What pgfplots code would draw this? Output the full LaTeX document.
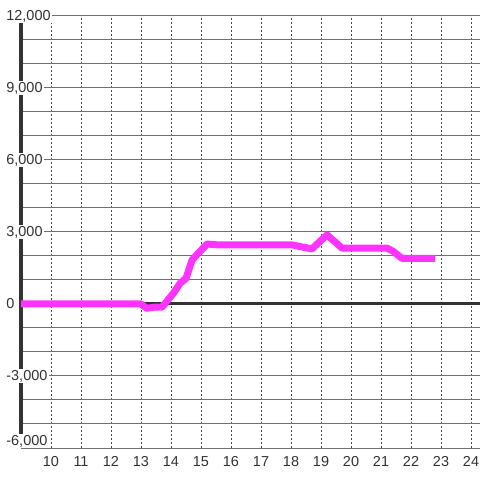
\documentclass[border=0pt]{standalone}
\usepackage{fontspec}
\setmainfont{Liberation Sans}
\usepackage{pgfplots}
\pgfplotsset{compat=1.18}
\definecolor{lab}{HTML}{333333}
\definecolor{grd}{HTML}{707070}
\definecolor{dots}{HTML}{4A4A4A}
\definecolor{mag}{HTML}{FF33FF}
\begin{document}
\begin{tikzpicture}
\begin{axis}[
  scale only axis, width=459bp, height=432bp,
  xmin=9, xmax=24.3, ymin=-6000, ymax=12000,
  axis line style={draw=none},
  major tick length=0, minor tick length=0,
  xtick={10,...,24},
  ytick={-6000,-3000,0,3000,6000,9000,12000},
  yticklabels={},
  scaled y ticks=false,
  minor ytick={-5000,-4000,-2000,-1000,1000,2000,4000,5000,7000,8000,10000,11000},
  xmajorgrids, ymajorgrids, yminorgrids,
  x grid style={dots, line width=1bp, dash pattern=on 2bp off 2bp},
  y grid style={grd, line width=1bp},
  minor y grid style={grd, line width=1bp},
  /pgf/number format/assume math mode=true,
  tick label style={font=\fontsize{14.5}{17}\selectfont, text=lab},
  xticklabel style={anchor=north, inner sep=0pt, yshift=-8bp},
  clip=false,
]
\draw[lab, line width=3bp] (axis cs:9,0) -- (axis cs:24.3,0);
\draw[lab, line width=3.2bp] (axis cs:9,12000) -- (axis cs:9,-6000);
\addplot[mag, line width=7bp, line join=round, line cap=butt] coordinates {
(9,0) (13,0) (13.19,-180) (13.45,-130) (13.7,-130) (14.08,450) (14.3,860)
(14.5,1070) (14.7,1830) (14.9,2110) (15.2,2500) (15.6,2460) (18.05,2460)
(18.35,2380) (18.7,2300) (19.2,2880) (19.7,2330) (21.2,2330) (21.4,2200)
(21.7,1900) (22.8,1900)
};
\tikzset{ylab/.style={anchor=west, fill=white, inner sep=1.2bp, text=lab, font=\fontsize{14.5}{17}\selectfont, xshift=-16bp}}
\node[ylab] at (axis cs:9,12000) {12,000};
\node[ylab] at (axis cs:9,9000) {9,000};
\node[ylab] at (axis cs:9,6000) {6,000};
\node[ylab] at (axis cs:9,3000) {3,000};
\node[ylab] at (axis cs:9,0) {0};
\node[ylab] at (axis cs:9,-3000) {-3,000};
\node[ylab, yshift=7bp] at (axis cs:9,-6000) {-6,000};
\end{axis}
\pgfresetboundingbox
\path[use as bounding box] ([xshift=-21bp,yshift=-32bp]current axis.south west) rectangle ([yshift=16bp]current axis.north east);
\end{tikzpicture}
\end{document}
